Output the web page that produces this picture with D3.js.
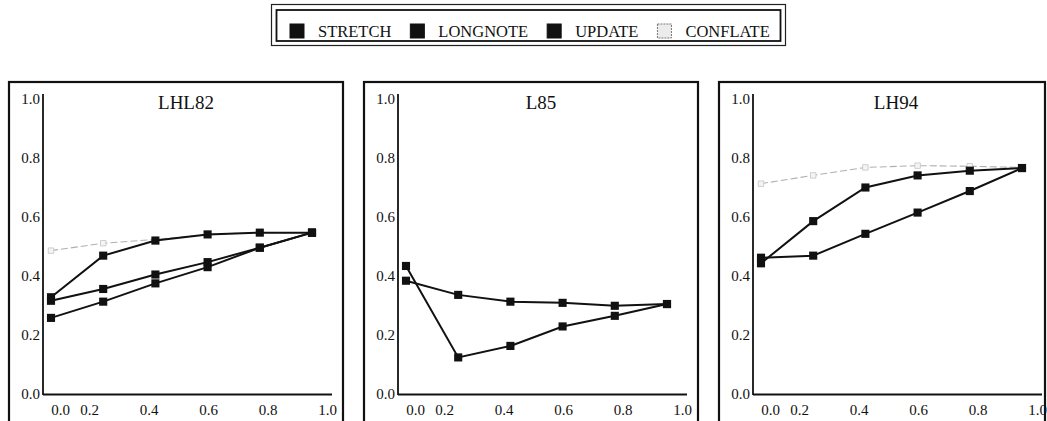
<!DOCTYPE html>
<html>
<head>
<meta charset="utf-8">
<script src="https://cdn.jsdelivr.net/npm/d3@7"></script>
<style>
  body { margin: 0; background: #fff; }
  svg { display: block; font-family: "Liberation Serif", "Times New Roman", serif; }
</style>
</head>
<body>
<div id="chart"></div>
<script>
// values
const xValues = [0, 0.2, 0.4, 0.6, 0.8, 1.0];
const xTicks = [0, 0.2, 0.4, 0.6, 0.8, 1.0];
const yTicks = [0, 0.2, 0.4, 0.6, 0.8, 1.0];
const seriesNames = ["STRETCH", "LONGNOTE", "UPDATE", "CONFLATE"];
const panelNames = ["LHL82", "L85", "LH94"];

const stretch = [
    [0.328, 0.469, 0.520, 0.541, 0.547, 0.547],
    [0.434, 0.124, 0.163, 0.229, 0.265, 0.305],
    [0.443, 0.586, 0.700, 0.741, 0.757, 0.766]
];
const longnote = [
    [0.316, 0.356, 0.405, 0.447, 0.496, 0.547],
    [0.384, 0.336, 0.313, 0.309, 0.299, 0.305],
    [0.462, 0.469, 0.543, 0.615, 0.688, 0.766]
];
const update = [
    [0.258, 0.313, 0.375, 0.430, 0.496, 0.547],
    null,
    null
];
const conflate = [
    [0.486, 0.511, 0.524, 0.541, 0.547, 0.547],
    null,
    [0.713, 0.741, 0.768, 0.774, 0.772, 0.768]
];

const width = 1047, height = 421;
const svg = d3.select("#chart").append("svg")
    .attr("width", width)
    .attr("height", height);

// ---- legend ----
const legend = svg.append("g");
legend.append("rect")
    .attr("x", 271.5).attr("y", 4.5).attr("width", 514).attr("height", 41)
    .attr("fill", "none").attr("stroke", "#222").attr("stroke-width", 1.2);
legend.append("rect")
    .attr("x", 276.5).attr("y", 10).attr("width", 504).attr("height", 31)
    .attr("fill", "none").attr("stroke", "#111").attr("stroke-width", 1.8);

let lx = 290;
seriesNames.forEach((name, i) => {
    const isConflate = name === "CONFLATE";
    legend.append("rect")
        .attr("x", lx).attr("y", 24).attr("width", 14).attr("height", 14)
        .attr("fill", isConflate ? "#ececec" : "#111")
        .attr("stroke", isConflate ? "#777" : "#111")
        .attr("stroke-dasharray", isConflate ? "2,1" : null)
        .attr("stroke-width", 1);
    const t = legend.append("text")
        .attr("x", lx + 28).attr("y", 37)
        .attr("font-size", "16.5px")
        .attr("fill", "#111")
        .text(name);
    lx += 28 + t.node().getComputedTextLength() + 19;
});

// ---- panels ----
const panelLeft = [9, 364, 719];
const frameWidth = [334, 334, 326];
const frameTop = 82;

panelNames.forEach((title, p) => {
    const left = panelLeft[p];
    const axisX = left + 34;

    const g = svg.append("g");

    g.append("rect")
        .attr("x", left).attr("y", frameTop)
        .attr("width", frameWidth[p]).attr("height", 400)
        .attr("fill", "none").attr("stroke", "#111").attr("stroke-width", 2.2);

    const x = d3.scaleLinear().domain([0, 1]).range([axisX + 8, axisX + 269]);
    const y = d3.scaleLinear().domain([0, 1]).range([394, 99]);
    // tick labels sit on their own grid in the original print
    const xLabel = d3.scaleLinear().domain([0, 0.2, 1.0]).range([axisX + 17, axisX + 46, axisX + 284]);

    const yAxis = g.append("g")
        .attr("transform", `translate(${axisX},0)`)
        .call(d3.axisLeft(y).tickValues(yTicks).tickSize(0).tickPadding(3)
            .tickFormat(d3.format(".1f")));
    yAxis.select(".domain").attr("stroke", "#111").attr("stroke-width", 1.8)
        .attr("d", `M0,${y(0) + 1}V${y(1) - 5}`);
    yAxis.selectAll("text")
        .attr("font-size", "15px")
        .attr("font-family", "Liberation Serif, serif")
        .attr("fill", "#111");

    const xAxis = g.append("g")
        .attr("transform", `translate(0,${y(0)})`)
        .call(d3.axisBottom(xLabel).tickValues(xTicks).tickSize(0).tickPadding(10)
            .tickFormat(d3.format(".1f")));
    xAxis.select(".domain").attr("stroke", "#111").attr("stroke-width", 1.8)
        .attr("d", `M${axisX},0.5H${axisX + 289}`);
    xAxis.selectAll("text")
        .attr("font-size", "15px")
        .attr("font-family", "Liberation Serif, serif")
        .attr("fill", "#111");

    g.append("text")
        .attr("x", axisX + 143).attr("y", 109)
        .attr("text-anchor", "middle")
        .attr("font-size", "19px")
        .attr("fill", "#111")
        .text(title);

    const line = d3.line()
        .defined(d => d != null)
        .x((d, i) => x(xValues[i]))
        .y(d => y(d));

    // conflate first, so the black series sit on top
    const conf = conflate[p];
    if (conf) {
        g.append("path")
            .datum(conf)
            .attr("d", line)
            .attr("fill", "none")
            .attr("stroke", "#b0b0b0")
            .attr("stroke-width", 1.1)
            .attr("stroke-dasharray", "7,3");
        g.selectAll(".conf-pt")
            .data(conf)
            .join("path")
            .attr("class", "conf-pt")
            .attr("transform", (d, i) => `translate(${x(xValues[i])},${y(d)})`)
            .attr("d", d3.symbol(d3.symbolSquare, 30))
            .attr("fill", "#f4f4f4")
            .attr("stroke", "#c4c4c4")
            .attr("stroke-width", 0.8);
    }

    [update[p], longnote[p], stretch[p]].forEach(vals => {
        if (!vals) return;
        g.append("path")
            .datum(vals)
            .attr("d", line)
            .attr("fill", "none")
            .attr("stroke", "#111")
            .attr("stroke-width", 2);
        g.append("g")
            .selectAll("path")
            .data(vals)
            .join("path")
            .attr("transform", (d, i) => `translate(${x(xValues[i])},${y(d)})`)
            .attr("d", d3.symbol(d3.symbolSquare, 66))
            .attr("fill", "#111");
    });
});
</script>
</body>
</html>
